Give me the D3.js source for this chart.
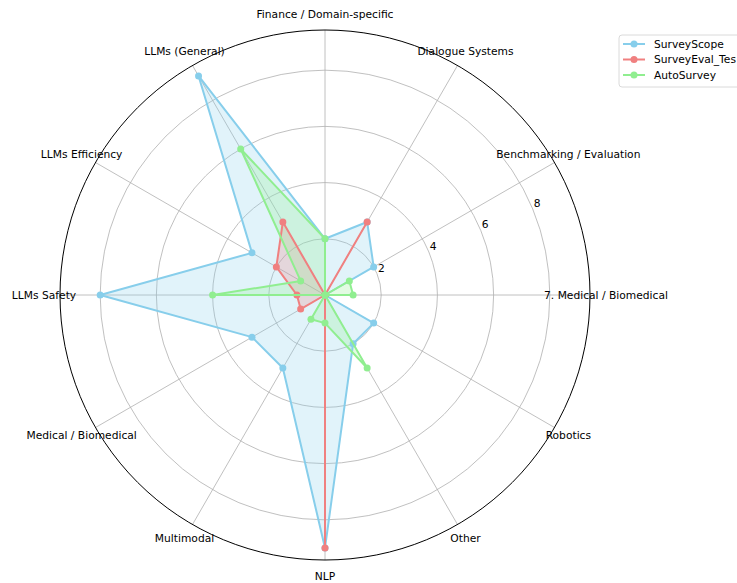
<!DOCTYPE html>
<html>
<head>
<meta charset="utf-8">
<script src="https://cdn.jsdelivr.net/npm/d3@7"></script>
<style>
  body { margin: 0; background: #fff; }
  text { font-family: "DejaVu Sans", sans-serif; font-size: 10.7px; fill: #000; }
</style>
</head>
<body>
<script>
var categories = ['Finance / Domain-specific', 'Dialogue Systems', 'Benchmarking / Evaluation',
  '7. Medical / Biomedical', 'Robotics', 'Other', 'NLP', 'Multimodal',
  'Medical / Biomedical', 'LLMs Safety', 'LLMs Efficiency', 'LLMs (General)']
var surveyScope = [2, 3, 2, 0, 2, 2, 9, 3, 3, 8, 3, 9]
var surveyEvalTest = [0, 3, 0, 0, 0, 0, 9, 0, 1, 1, 2, 3]
var autoSurvey = [2, 0, 1, 1, 0, 3, 1, 1, 0, 4, 1, 6]
var seriesNames = ['SurveyScope', 'SurveyEval_Tes', 'AutoSurvey']
var seriesColors = ['#87ceeb', '#f08080', '#90ee90']
var radialTicks = [2, 4, 6, 8]

var width = 737, height = 583
var cx = 325, cy = 295, outerR = 265
var rMax = 9.43

var svg = d3.select('body').append('svg')
  .attr('width', width)
  .attr('height', height)

var g = svg.append('g').attr('transform', 'translate(' + cx + ',' + cy + ')')

var r = d3.scaleLinear().domain([0, rMax]).range([0, outerR])
var angle = d3.scaleLinear().domain([0, categories.length]).range([0, 2 * Math.PI])

// grid circles
g.selectAll('.grid')
  .data(radialTicks)
  .enter().append('circle')
  .attr('r', d => r(d))
  .attr('fill', 'none')
  .attr('stroke', '#b0b0b0')
  .attr('stroke-width', 0.8)

// spokes
g.selectAll('.spoke')
  .data(categories)
  .enter().append('line')
  .attr('x1', 0).attr('y1', 0)
  .attr('x2', (d, i) => outerR * Math.sin(angle(i)))
  .attr('y2', (d, i) => -outerR * Math.cos(angle(i)))
  .attr('stroke', '#b0b0b0')
  .attr('stroke-width', 0.8)

var allSeries = [surveyScope, surveyEvalTest, autoSurvey]

var radial = d3.lineRadial()
  .angle((d, i) => angle(i))
  .radius(d => r(d))
  .curve(d3.curveLinearClosed)

allSeries.forEach(function (vals, k) {
  g.append('path')
    .attr('d', radial(vals))
    .attr('fill', seriesColors[k])
    .attr('fill-opacity', 0.25)
    .attr('stroke', 'none')
})

allSeries.forEach(function (vals, k) {
  g.append('path')
    .attr('d', radial(vals))
    .attr('fill', 'none')
    .attr('stroke', seriesColors[k])
    .attr('stroke-width', 2)
    .attr('stroke-linejoin', 'round')
  g.selectAll('.pt' + k)
    .data(vals)
    .enter().append('circle')
    .attr('cx', (d, i) => r(d) * Math.sin(angle(i)))
    .attr('cy', (d, i) => -r(d) * Math.cos(angle(i)))
    .attr('r', 3.5)
    .attr('fill', seriesColors[k])
})

// outer frame
g.append('circle')
  .attr('r', outerR)
  .attr('fill', 'none')
  .attr('stroke', '#000')
  .attr('stroke-width', 1)

// radial tick labels
var labAng = 22.5 * Math.PI / 180
g.selectAll('.rlab')
  .data(radialTicks)
  .enter().append('text')
  .attr('x', d => r(d) * Math.cos(labAng) + 1)
  .attr('y', d => -r(d) * Math.sin(labAng) - 2)
  .attr('text-anchor', 'start')
  .text(d => d)

// category labels
var labR = 281
g.selectAll('.cat')
  .data(categories)
  .enter().append('text')
  .attr('x', (d, i) => labR * Math.sin(angle(i)))
  .attr('y', (d, i) => -labR * Math.cos(angle(i)))
  .attr('text-anchor', 'middle')
  .attr('dominant-baseline', 'central')
  .text(d => d)

// legend
var legend = svg.append('g').attr('transform', 'translate(619,35)')
legend.append('rect')
  .attr('width', 130).attr('height', 52)
  .attr('rx', 3)
  .attr('fill', '#fff')
  .attr('stroke', '#d0d0d0')
  .attr('stroke-width', 0.8)
seriesNames.forEach(function (name, k) {
  var y = 9 + k * 15.5
  legend.append('line')
    .attr('x1', 4).attr('x2', 26)
    .attr('y1', y).attr('y2', y)
    .attr('stroke', seriesColors[k])
    .attr('stroke-width', 2)
  legend.append('circle')
    .attr('cx', 15).attr('cy', y).attr('r', 3.5)
    .attr('fill', seriesColors[k])
  legend.append('text')
    .attr('x', 35).attr('y', y)
    .attr('dominant-baseline', 'central')
    .text(name)
})
</script>
</body>
</html>
